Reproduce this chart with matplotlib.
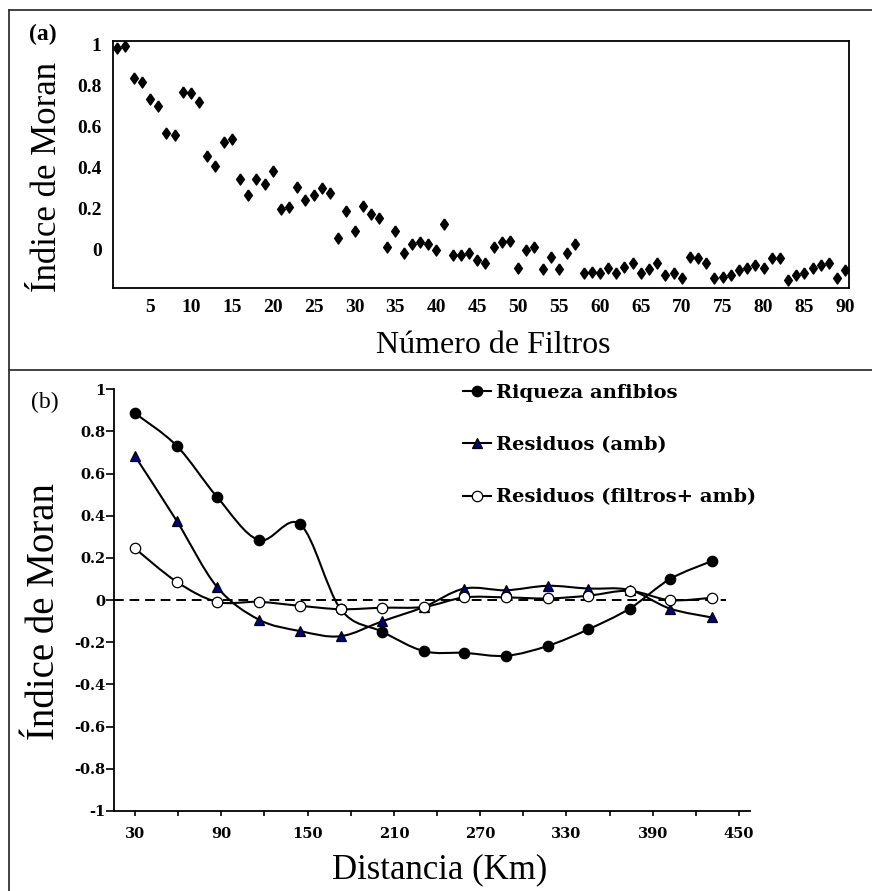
import numpy as np
import matplotlib
matplotlib.use("Agg")
import matplotlib.pyplot as plt
from matplotlib.lines import Line2D
from matplotlib.path import Path
from matplotlib.patches import PathPatch
from matplotlib.ticker import FuncFormatter

# Panel (a): Moran's I vs number of spatial filters
n_filtros = list(range(1, 91))
moran_filtros = [
    0.984, 0.992, 0.837, 0.821, 0.737, 0.702, 0.569, 0.561, 0.768, 0.764,
    0.720, 0.459, 0.411, 0.528, 0.540, 0.346, 0.268, 0.346, 0.322, 0.387,
    0.198, 0.211, 0.309, 0.244, 0.268, 0.301, 0.276, 0.060, 0.190, 0.094,
    0.215, 0.174, 0.158, 0.013, 0.094, -0.016, 0.029, 0.041, 0.029, 0.000,
    0.127, -0.024, -0.024, -0.016, -0.049, -0.065, 0.016, 0.041, 0.046, -0.089,
    0.000, 0.013, -0.094, -0.033, -0.094, -0.016, 0.029, -0.114, -0.106, -0.114,
    -0.089, -0.114, -0.081, -0.065, -0.114, -0.094, -0.065, -0.122, -0.114, -0.138,
    -0.033, -0.041, -0.065, -0.138, -0.130, -0.122, -0.098, -0.089, -0.073, -0.089,
    -0.041, -0.041, -0.146, -0.122, -0.114, -0.089, -0.073, -0.065, -0.138, -0.098,
]
ticks_a_x = list(range(5, 91, 5))
ticks_a_y = [0, 0.2, 0.4, 0.6, 0.8, 1]

# Panel (b): correlograms
distancia = [30, 59, 87, 116, 145, 173, 202, 231, 259, 288, 317, 345, 374, 402, 431]
riqueza = [0.886, 0.732, 0.490, 0.285, 0.359, -0.043, -0.150, -0.242, -0.250,
           -0.264, -0.217, -0.139, -0.040, 0.100, 0.185]
res_amb = [0.683, 0.376, 0.063, -0.092, -0.147, -0.171, -0.100, -0.032, 0.055,
           0.047, 0.068, 0.055, 0.048, -0.040, -0.082]
res_filtros = [0.245, 0.087, -0.008, -0.008, -0.027, -0.043, -0.036, -0.032,
               0.013, 0.013, 0.008, 0.021, 0.044, 0.000, 0.011]
labels_b = ["Riqueza anfibios", "Residuos (amb)", "Residuos (filtros+ amb)"]
ticks_b_x = list(range(30, 451, 60))
minor_b_x = list(range(60, 421, 60))
ticks_b_y = [-1, -0.8, -0.6, -0.4, -0.2, 0, 0.2, 0.4, 0.6, 0.8, 1]
ZERO_LINE_END = 441

W, H = 872, 891
SERIF = "Liberation Serif"
SERIF_B = "DejaVu Serif"


def fx(px):
    return px / W


def fy(py):
    return 1 - py / H


def smooth_path(xs, ys):
    """Excel-style smoothed line (Catmull-Rom as cubic Bezier)."""
    pts = np.column_stack([xs, ys]).astype(float)
    ext = np.vstack([pts[0], pts, pts[-1]])
    verts = [tuple(pts[0])]
    codes = [Path.MOVETO]
    for i in range(1, len(ext) - 2):
        p0, p1, p2, p3 = ext[i - 1], ext[i], ext[i + 1], ext[i + 2]
        c1 = p1 + (p2 - p0) / 6
        c2 = p2 - (p3 - p1) / 6
        verts += [tuple(c1), tuple(c2), tuple(p2)]
        codes += [Path.CURVE4] * 3
    return Path(verts, codes)


fig = plt.figure(figsize=(W / 100, H / 100), dpi=100)
fig.patch.set_facecolor("white")

# frame lines
frame_kw = dict(color="#333333", linewidth=1.3, transform=fig.transFigure)
fig.add_artist(Line2D([fx(9), 1], [fy(10), fy(10)], **frame_kw))
fig.add_artist(Line2D([fx(9), fx(9)], [fy(10), 0], **frame_kw))
fig.add_artist(Line2D([fx(9), 1], [fy(370), fy(370)], **frame_kw))

# ---------------- panel (a) ----------------
ax1 = fig.add_axes([fx(112.7), fy(288.3), fx(849) - fx(112.7), fy(40.7) - fy(288.3)])
diamond = [(0, 1), (0.7, 0), (0, -1), (-0.7, 0), (0, 1)]
ax1.plot(n_filtros, moran_filtros, linestyle="none", marker=diamond,
         markersize=8, color="black")
ax1.set_xlim(0.44, 90.45)
ax1.set_ylim(-0.187, 1.02)
ax1.set_xticks(ticks_a_x)
ax1.set_yticks(ticks_a_y)
ax1.yaxis.set_major_formatter(FuncFormatter(lambda v, p: f"{v:g}"))
ax1.tick_params(length=0, pad=8)
ax1.tick_params(axis="x", pad=8)
for lab in ax1.get_xticklabels() + ax1.get_yticklabels():
    lab.set_fontfamily(SERIF)
    lab.set_fontweight("bold")
    lab.set_fontsize(14)
for sp in ax1.spines.values():
    sp.set_linewidth(1.3)

fig.text(fx(43), fy(34), "(a)", fontsize=17, fontweight="bold",
         family=SERIF, ha="center", va="center")
fig.text(fx(47), fy(177), "Índice de Moran", fontsize=25, family=SERIF,
         rotation=90, ha="center", va="center")
fig.text(fx(493), fy(353), "Número de Filtros", fontsize=23, family=SERIF,
         ha="center", va="baseline")

# ---------------- panel (b) ----------------
ax2 = fig.add_axes([fx(114.3), fy(811), fx(750) - fx(114.3), fy(389.3) - fy(811)])
ax2.hlines(0, 15.6, ZERO_LINE_END, colors="black", linestyles=(0, (5, 3)),
           linewidth=1.4, zorder=1)

series = [
    (riqueza, dict(marker="o", markerfacecolor="black", markeredgecolor="black")),
    (res_amb, dict(marker="^", markerfacecolor="#000080", markeredgecolor="black")),
    (res_filtros, dict(marker="o", markerfacecolor="white", markeredgecolor="black")),
]
handles = []
for z, (vals, mk) in enumerate(series):
    ax2.add_patch(PathPatch(smooth_path(distancia, vals), facecolor="none",
                            edgecolor="black", linewidth=1.5, zorder=2 + z))
    ax2.plot(distancia, vals, linestyle="none", markersize=7.5,
             markeredgewidth=0.9, zorder=2.5 + z, **mk)
    handles.append(Line2D([], [], color="black", linewidth=1.5,
                          markersize=7.5, markeredgewidth=0.9, **mk))

ax2.set_xlim(15.6, 457.7)
ax2.set_ylim(-1, 1)
ax2.set_xticks(ticks_b_x)
ax2.set_xticks(minor_b_x, minor=True)
ax2.set_yticks(ticks_b_y)
ax2.yaxis.set_major_formatter(FuncFormatter(lambda v, p: f"{round(v, 1):g}"))
ax2.spines["top"].set_visible(False)
ax2.spines["right"].set_visible(False)
ax2.spines["left"].set_linewidth(1.3)
ax2.spines["bottom"].set_linewidth(1.3)
ax2.tick_params(axis="y", direction="out", length=5.5, width=1.2, pad=1)
ax2.tick_params(axis="x", which="both", direction="out", length=3.5, width=1.2, pad=8)
for lab in ax2.get_xticklabels() + ax2.get_yticklabels():
    lab.set_fontfamily(SERIF_B)
    lab.set_fontweight("bold")
    lab.set_fontsize(10.5)

leg = ax2.legend(handles, labels_b, loc="upper left",
                 bbox_to_anchor=(fx(463), fy(384)), bbox_transform=fig.transFigure,
                 frameon=False, borderaxespad=0, borderpad=0, numpoints=1,
                 handlelength=1.45, handletextpad=0.25, labelspacing=1.76,
                 prop=dict(family=SERIF_B, weight="bold", size=14))

fig.text(fx(45), fy(402), "(b)", fontsize=17, family=SERIF,
         ha="center", va="center")
fig.text(fx(45), fy(612), "Índice de Moran", fontsize=28, family=SERIF,
         rotation=90, ha="center", va="center")
fig.text(fx(440), fy(878), "Distancia (Km)", fontsize=25, family=SERIF,
         ha="center", va="baseline")

fig.savefig("out.png", dpi=100, facecolor="white")
